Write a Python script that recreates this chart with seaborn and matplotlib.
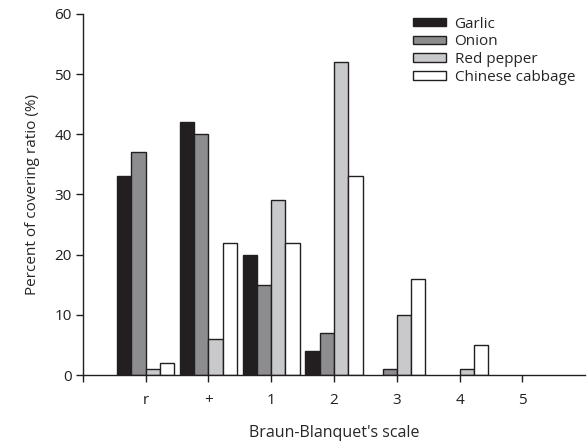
import pandas as pd
import matplotlib
matplotlib.use("Agg")
import matplotlib.pyplot as plt
import seaborn as sns

# Braun-Blanquet scale classes
scale = ["r", "+", "1", "2", "3", "4", "5"]
crops = ["Garlic", "Onion", "Red pepper", "Chinese cabbage"]

# percent of covering ratio per crop
garlic = [33, 42, 20, 4, 0, 0, 0]
onion = [37, 40, 15, 7, 1, 0, 0]
red_pepper = [1, 6, 29, 52, 10, 1, 0]
chinese_cabbage = [2, 22, 22, 33, 16, 5, 0]

colors = ["#231f20", "#8d8d8f", "#c8c9cb", "#ffffff"]

rows = []
for crop, vals in zip(crops, [garlic, onion, red_pepper, chinese_cabbage]):
    for s, v in zip(scale, vals):
        rows.append({"scale": s, "crop": crop, "value": v})
df = pd.DataFrame(rows)

sns.set_style("ticks")
plt.rcParams['font.family'] = ['Open Sans', 'DejaVu Sans']

fig = plt.figure(figsize=(5.87, 4.45), dpi=100)
ax = fig.add_axes([0.141, 0.157, 0.856, 0.812])

sns.barplot(data=df, x="scale", y="value", hue="crop", order=scale,
            hue_order=crops, palette=colors, width=0.91, saturation=1,
            edgecolor="#231f20", linewidth=1.0, ax=ax)

# empty classes leave no outline on the baseline
for p in ax.patches:
    if p.get_height() == 0 and p.get_width() > 0:
        p.set_visible(False)

ax.set_xlim(-1, 7)
ax.set_ylim(0, 60)
ax.set_yticks(range(0, 61, 10))
ax.set_xticks(range(-1, 7))
ax.set_xticklabels([""] + scale)
ax.tick_params(axis="both", direction="out", length=5, width=1,
               labelsize=11, colors="#231f20", pad=3)
ax.tick_params(axis="x", pad=8)
sns.despine(ax=ax)
for sp in ["left", "bottom"]:
    ax.spines[sp].set_linewidth(1)
    ax.spines[sp].set_color("#231f20")

ax.set_xlabel("Braun-Blanquet's scale", fontsize=11.5, labelpad=12)
ax.set_ylabel("Percent of covering ratio (%)", fontsize=11, labelpad=10)

ax.legend(loc="upper left", bbox_to_anchor=(0.691, 0.98),
          bbox_transform=fig.transFigure, frameon=False, fontsize=11,
          handlelength=2.15, handleheight=0.5, handletextpad=0.55,
          labelspacing=0.18, borderpad=0)

fig.savefig("out.png", dpi=100)
